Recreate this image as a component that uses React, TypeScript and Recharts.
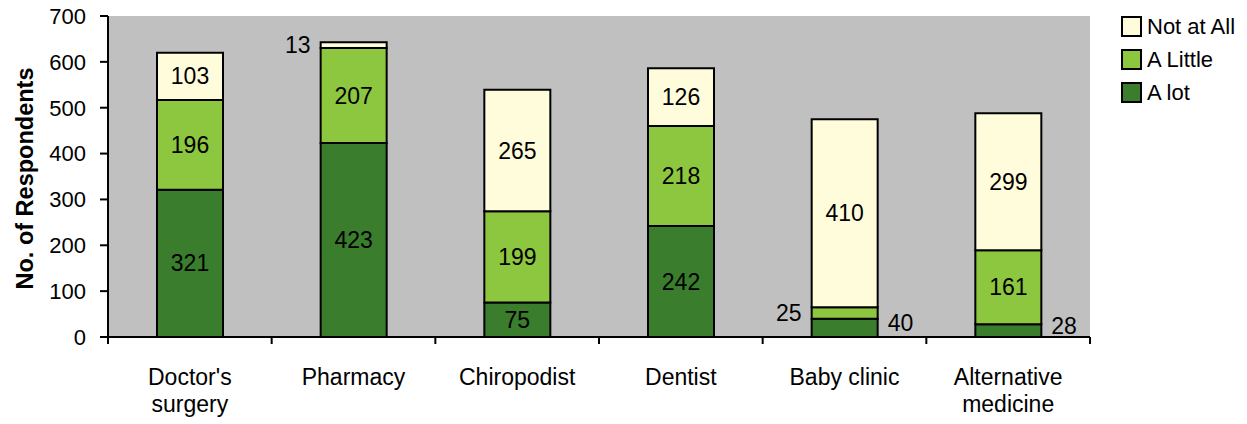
import { BarChart, Bar, XAxis, YAxis, CartesianGrid, LabelList } from "recharts";

const categories = ["Doctor's\nsurgery", "Pharmacy", "Chiropodist", "Dentist", "Baby clinic", "Alternative\nmedicine"];
const aLot = [321, 423, 75, 242, 40, 28];
const aLittle = [196, 207, 199, 218, 25, 161];
const notAtAll = [103, 13, 265, 126, 410, 299];
const yTicks = [0, 100, 200, 300, 400, 500, 600, 700];

const data = categories.map((name, i) => ({
  name,
  aLot: aLot[i],
  aLittle: aLittle[i],
  notAtAll: notAtAll[i],
}));

const series = [
  { key: "aLot", label: "A lot", color: "#3A7D2C" },
  { key: "aLittle", label: "A Little", color: "#8DC63F" },
  { key: "notAtAll", label: "Not at All", color: "#FFFCDB" },
];

// segments too thin to hold their number
const outside: Record<string, "left" | "right"> = {
  "notAtAll-1": "left",
  "aLittle-4": "left",
  "aLot-4": "right",
  "aLot-5": "right",
};

const W = 1247;
const H = 424;
const LEFT = 108;
const RIGHT = 1090;
const FONT = "'Liberation Sans', Arial, sans-serif";
const band = (RIGHT - LEFT) / categories.length;

function XTick({ x, y, payload, index }: any) {
  const lines = String(payload.value).split("\n");
  return (
    <g>
      <line x1={x - band / 2} x2={x - band / 2} y1={y} y2={y + 7} stroke="#000" strokeWidth={2} />
      {index === categories.length - 1 && (
        <line x1={x + band / 2} x2={x + band / 2} y1={y} y2={y + 7} stroke="#000" strokeWidth={2} />
      )}
      {lines.map((l, i) => (
        <text key={i} x={x} y={y + 48 + i * 27} textAnchor="middle" fontSize={23} fill="#000" fontFamily={FONT}>
          {l}
        </text>
      ))}
    </g>
  );
}

function YTitle({ viewBox }: any) {
  const cy = viewBox.y + viewBox.height / 2;
  return (
    <text
      x={0}
      y={0}
      transform={`translate(${33}, ${cy + 2}) rotate(-90)`}
      textAnchor="middle"
      fontSize={23.5}
      fontWeight="bold"
      fontFamily={FONT}
      fill="#000"
    >
      No. of Respondents
    </text>
  );
}

const makeLabel = (key: string) => (props: any) => {
  const { x, y, width, height, value, index } = props;
  const side = outside[`${key}-${index}`];
  let tx = x + width / 2;
  let ty = y + height / 2;
  let anchor = "middle";
  if (side === "left") {
    tx = x - 10;
    anchor = "end";
  } else if (side === "right") {
    tx = x + width + 10;
    ty -= 5;
    anchor = "start";
  }
  return (
    <text x={tx} y={ty} textAnchor={anchor} dominantBaseline="central" fontSize={23} fontFamily={FONT} fill="#000">
      {value}
    </text>
  );
};

function LegendBox() {
  return (
    <div style={{ position: "absolute", left: 1121, top: 10, fontFamily: FONT, fontSize: 22, lineHeight: "33px" }}>
      {[...series].reverse().map((s) => (
        <div key={s.key} style={{ display: "flex", alignItems: "center", height: 33 }}>
          <div style={{ width: 17, height: 17, background: s.color, border: "2px solid #000", marginRight: 5 }} />
          <span>{s.label}</span>
        </div>
      ))}
    </div>
  );
}

export default function App() {
  return (
    <div style={{ position: "absolute", left: 0, top: 0, width: W, height: H, background: "#fff" }}>
      <BarChart width={W} height={H} data={data} margin={{ top: 16, right: W - RIGHT, bottom: 0, left: 0 }}>
        <CartesianGrid horizontal={false} vertical={false} fill="#C0C0C0" fillOpacity={1} stroke="none" />
        <XAxis
          dataKey="name"
          interval={0}
          height={H - 16 - 321}
          tickSize={0}
          tickMargin={0}
          tickLine={false}
          axisLine={{ stroke: "#000", strokeWidth: 2 }}
          tick={<XTick />}
        />
        <YAxis
          width={LEFT}
          domain={[0, 700]}
          ticks={yTicks}
          interval={0}
          tickSize={8}
          tickMargin={14}
          axisLine={{ stroke: "#000", strokeWidth: 2 }}
          tickLine={{ stroke: "#000", strokeWidth: 2 }}
          tick={{ fill: "#000", fontSize: 22, fontFamily: FONT }}
          label={<YTitle />}
        />
        {series.map((s) => (
          <Bar
            key={s.key}
            dataKey={s.key}
            name={s.label}
            stackId="a"
            fill={s.color}
            stroke="#000"
            strokeWidth={2}
            barSize={66}
            isAnimationActive={false}
          >
            <LabelList dataKey={s.key} content={makeLabel(s.key)} />
          </Bar>
        ))}
      </BarChart>
      <LegendBox />
    </div>
  );
}
